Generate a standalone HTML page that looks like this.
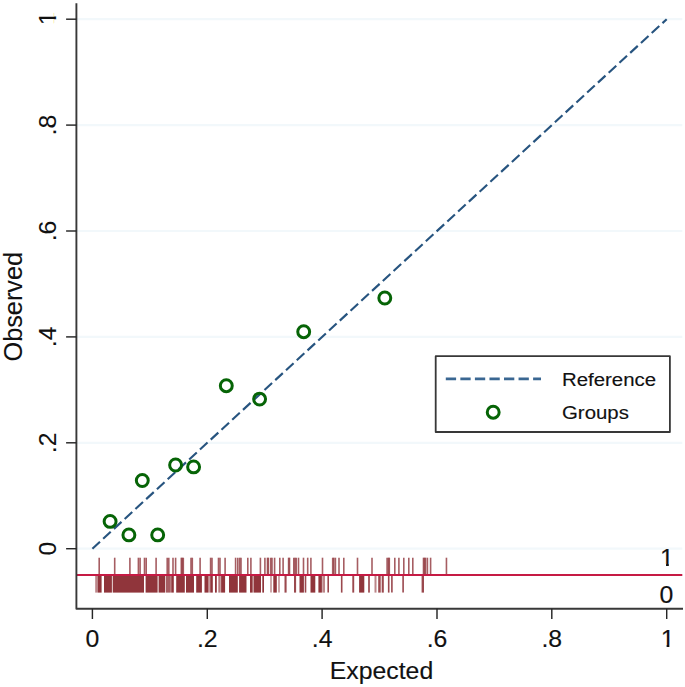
<!DOCTYPE html>
<html lang="en"><head><meta charset="utf-8"><title>Calibration plot</title>
<style>
html,body{margin:0;padding:0;background:#fff;}
body{width:685px;height:687px;overflow:hidden;}
svg{display:block;}
text{font-family:"Liberation Sans",Arial,Helvetica,sans-serif;fill:#111;stroke:#111;stroke-width:0.15px;}
.r{stroke-width:0.08px;}
.t{font-size:24.8px;}
.l{font-size:20.4px;}
</style></head><body>
<svg width="685" height="687" viewBox="0 0 685 687">
<rect width="685" height="687" fill="#fff"/>
<defs><clipPath id="c1"><path d="M-9,-26H9V-2.25H1.8V1H-0.95V-2.25H-9Z"/></clipPath></defs>
<g stroke="#f2f8fb" stroke-width="2.2">
<line x1="77" x2="682.3" y1="548.7" y2="548.7"/>
<line x1="77" x2="682.3" y1="442.8" y2="442.8"/>
<line x1="77" x2="682.3" y1="336.9" y2="336.9"/>
<line x1="77" x2="682.3" y1="231.0" y2="231.0"/>
<line x1="77" x2="682.3" y1="125.1" y2="125.1"/>
<line x1="77" x2="682.3" y1="19.2" y2="19.2"/>
</g>
<g fill="#90353b">
<rect x="95.2" y="575.1" width="2.8" height="17.5" opacity="0.6"/>
<rect x="98.0" y="575.1" width="3.6" height="17.5" opacity="1"/>
<rect x="104.0" y="575.1" width="7.9" height="17.5" opacity="1"/>
<rect x="112.7" y="575.1" width="31.3" height="17.5" opacity="1"/>
<rect x="145.6" y="575.1" width="12.0" height="17.5" opacity="1"/>
<rect x="158.6" y="575.1" width="6.6" height="17.5" opacity="1"/>
<rect x="165.9" y="575.1" width="4.9" height="17.5" opacity="0.8"/>
<rect x="171.2" y="575.1" width="2.6" height="17.5" opacity="1"/>
<rect x="176.2" y="575.1" width="8.6" height="17.5" opacity="1"/>
<rect x="186.0" y="575.1" width="8.0" height="17.5" opacity="1"/>
<rect x="196.2" y="575.1" width="5.7" height="17.5" opacity="1"/>
<rect x="204.5" y="575.1" width="3.5" height="17.5" opacity="1"/>
<rect x="208.0" y="575.1" width="1.8" height="17.5" opacity="0.6"/>
<rect x="210.2" y="575.1" width="2.6" height="17.5" opacity="1"/>
<rect x="215.0" y="575.1" width="1.8" height="17.5" opacity="1"/>
<rect x="218.3" y="575.1" width="2.4" height="17.5" opacity="0.65"/>
<rect x="221.1" y="575.1" width="4.0" height="17.5" opacity="1"/>
<rect x="229.0" y="575.1" width="8.8" height="17.5" opacity="1"/>
<rect x="239.1" y="575.1" width="7.4" height="17.5" opacity="1"/>
<rect x="250.0" y="575.1" width="2.7" height="17.5" opacity="1"/>
<rect x="253.5" y="575.1" width="7.5" height="17.5" opacity="1"/>
<rect x="262.3" y="575.1" width="1.7" height="17.5" opacity="1"/>
<rect x="273.3" y="575.1" width="3.5" height="17.5" opacity="1"/>
<rect x="284.5" y="575.1" width="2.1" height="17.5" opacity="0.9"/>
<rect x="294.0" y="575.1" width="2.1" height="17.5" opacity="0.9"/>
<rect x="299.5" y="575.1" width="4.4" height="17.5" opacity="1"/>
<rect x="310.5" y="575.1" width="4.8" height="17.5" opacity="1"/>
<rect x="318.4" y="575.1" width="3.5" height="17.5" opacity="1"/>
<rect x="322.3" y="575.1" width="2.7" height="17.5" opacity="0.6"/>
<rect x="352.3" y="575.1" width="1.9" height="17.5" opacity="0.9"/>
<rect x="359.1" y="575.1" width="5.2" height="17.5" opacity="1"/>
<rect x="368.1" y="575.1" width="1.8" height="17.5" opacity="0.85"/>
<rect x="374.5" y="575.1" width="2.0" height="17.5" opacity="0.6"/>
<rect x="378.2" y="575.1" width="2.5" height="17.5" opacity="0.9"/>
<rect x="381.7" y="575.1" width="2.1" height="17.5" opacity="0.9"/>
<rect x="421.6" y="575.1" width="2.4" height="17.5" opacity="0.9"/>
</g>
<g stroke="#90353b" stroke-width="1.6">
<line x1="271" x2="271" y1="575.1" y2="592.6" opacity="0.54"/>
<line x1="279" x2="279" y1="575.1" y2="592.6" opacity="0.54"/>
<line x1="305.5" x2="305.5" y1="575.1" y2="592.6" opacity="0.90"/>
<line x1="328.2" x2="328.2" y1="575.1" y2="592.6" opacity="0.90"/>
<line x1="341.7" x2="341.7" y1="575.1" y2="592.6" opacity="0.90"/>
<line x1="388.7" x2="388.7" y1="575.1" y2="592.6" opacity="0.90"/>
<line x1="391.9" x2="391.9" y1="575.1" y2="592.6" opacity="0.90"/>
<line x1="403.1" x2="403.1" y1="575.1" y2="592.6" opacity="0.90"/>
<line x1="99.2" x2="99.2" y1="557.7" y2="575.1" opacity="0.8"/>
<line x1="114.7" x2="114.7" y1="557.7" y2="575.1" opacity="0.8"/>
<line x1="129.9" x2="129.9" y1="557.7" y2="575.1" opacity="0.8"/>
<line x1="138.4" x2="138.4" y1="557.7" y2="575.1" opacity="0.8"/>
<line x1="140.1" x2="140.1" y1="557.7" y2="575.1" opacity="0.8"/>
<line x1="144.5" x2="144.5" y1="557.7" y2="575.1" opacity="0.8"/>
<line x1="146.2" x2="146.2" y1="557.7" y2="575.1" opacity="0.8"/>
<line x1="156.1" x2="156.1" y1="557.7" y2="575.1" opacity="0.8"/>
<line x1="167.2" x2="167.2" y1="557.7" y2="575.1" opacity="0.8"/>
<line x1="168.8" x2="168.8" y1="557.7" y2="575.1" opacity="0.8"/>
<line x1="173.0" x2="173.0" y1="557.7" y2="575.1" opacity="0.8"/>
<line x1="175.6" x2="175.6" y1="557.7" y2="575.1" opacity="0.8"/>
<line x1="181.3" x2="181.3" y1="557.7" y2="575.1" opacity="0.8"/>
<line x1="182.3" x2="182.3" y1="557.7" y2="575.1" opacity="0.8"/>
<line x1="183.3" x2="183.3" y1="557.7" y2="575.1" opacity="0.8"/>
<line x1="191" x2="191" y1="557.7" y2="575.1" opacity="0.8"/>
<line x1="192.3" x2="192.3" y1="557.7" y2="575.1" opacity="0.8"/>
<line x1="200.1" x2="200.1" y1="557.7" y2="575.1" opacity="0.8"/>
<line x1="210.6" x2="210.6" y1="557.7" y2="575.1" opacity="0.8"/>
<line x1="212" x2="212" y1="557.7" y2="575.1" opacity="0.8"/>
<line x1="218.5" x2="218.5" y1="557.7" y2="575.1" opacity="0.8"/>
<line x1="220" x2="220" y1="557.7" y2="575.1" opacity="0.8"/>
<line x1="225.1" x2="225.1" y1="557.7" y2="575.1" opacity="0.8"/>
<line x1="235.6" x2="235.6" y1="557.7" y2="575.1" opacity="0.8"/>
<line x1="237.8" x2="237.8" y1="557.7" y2="575.1" opacity="0.8"/>
<line x1="239.7" x2="239.7" y1="557.7" y2="575.1" opacity="0.8"/>
<line x1="241" x2="241" y1="557.7" y2="575.1" opacity="0.8"/>
<line x1="247.8" x2="247.8" y1="557.7" y2="575.1" opacity="0.8"/>
<line x1="250.9" x2="250.9" y1="557.7" y2="575.1" opacity="0.8"/>
<line x1="260.4" x2="260.4" y1="557.7" y2="575.1" opacity="0.8"/>
<line x1="264.9" x2="264.9" y1="557.7" y2="575.1" opacity="0.8"/>
<line x1="267.5" x2="267.5" y1="557.7" y2="575.1" opacity="0.8"/>
<line x1="268.4" x2="268.4" y1="557.7" y2="575.1" opacity="0.8"/>
<line x1="270.8" x2="270.8" y1="557.7" y2="575.1" opacity="0.8"/>
<line x1="272" x2="272" y1="557.7" y2="575.1" opacity="0.8"/>
<line x1="274.6" x2="274.6" y1="557.7" y2="575.1" opacity="0.8"/>
<line x1="279.8" x2="279.8" y1="557.7" y2="575.1" opacity="0.8"/>
<line x1="283.1" x2="283.1" y1="557.7" y2="575.1" opacity="0.8"/>
<line x1="288.6" x2="288.6" y1="557.7" y2="575.1" opacity="0.8"/>
<line x1="289.5" x2="289.5" y1="557.7" y2="575.1" opacity="0.8"/>
<line x1="293.8" x2="293.8" y1="557.7" y2="575.1" opacity="0.8"/>
<line x1="295" x2="295" y1="557.7" y2="575.1" opacity="0.8"/>
<line x1="296.2" x2="296.2" y1="557.7" y2="575.1" opacity="0.8"/>
<line x1="298.5" x2="298.5" y1="557.7" y2="575.1" opacity="0.8"/>
<line x1="303.5" x2="303.5" y1="557.7" y2="575.1" opacity="0.8"/>
<line x1="307.7" x2="307.7" y1="557.7" y2="575.1" opacity="0.8"/>
<line x1="310.9" x2="310.9" y1="557.7" y2="575.1" opacity="0.8"/>
<line x1="322.5" x2="322.5" y1="557.7" y2="575.1" opacity="0.8"/>
<line x1="332.7" x2="332.7" y1="557.7" y2="575.1" opacity="0.8"/>
<line x1="333.8" x2="333.8" y1="557.7" y2="575.1" opacity="0.8"/>
<line x1="335.4" x2="335.4" y1="557.7" y2="575.1" opacity="0.8"/>
<line x1="339" x2="339" y1="557.7" y2="575.1" opacity="0.8"/>
<line x1="343.8" x2="343.8" y1="557.7" y2="575.1" opacity="0.8"/>
<line x1="357.5" x2="357.5" y1="557.7" y2="575.1" opacity="0.8"/>
<line x1="372" x2="372" y1="557.7" y2="575.1" opacity="0.8"/>
<line x1="387.1" x2="387.1" y1="557.7" y2="575.1" opacity="0.8"/>
<line x1="388.5" x2="388.5" y1="557.7" y2="575.1" opacity="0.8"/>
<line x1="389.3" x2="389.3" y1="557.7" y2="575.1" opacity="0.8"/>
<line x1="394.8" x2="394.8" y1="557.7" y2="575.1" opacity="0.8"/>
<line x1="398.9" x2="398.9" y1="557.7" y2="575.1" opacity="0.8"/>
<line x1="403.8" x2="403.8" y1="557.7" y2="575.1" opacity="0.8"/>
<line x1="408.8" x2="408.8" y1="557.7" y2="575.1" opacity="0.8"/>
<line x1="412.8" x2="412.8" y1="557.7" y2="575.1" opacity="0.8"/>
<line x1="423.5" x2="423.5" y1="557.7" y2="575.1" opacity="0.8"/>
<line x1="424.5" x2="424.5" y1="557.7" y2="575.1" opacity="0.8"/>
<line x1="425.5" x2="425.5" y1="557.7" y2="575.1" opacity="0.8"/>
<line x1="427.4" x2="427.4" y1="557.7" y2="575.1" opacity="0.8"/>
<line x1="430.6" x2="430.6" y1="557.7" y2="575.1" opacity="0.8"/>
<line x1="446.45" x2="446.45" y1="557.7" y2="575.1" opacity="0.8"/>
</g>
<line x1="77" x2="682.3" y1="575.1" y2="575.1" stroke="#c61a44" stroke-width="2.0"/>
<line x1="92.4" y1="548.7" x2="666.7" y2="19.2" stroke="#27547f" stroke-width="2.15" stroke-dasharray="10.3 4.33"/>
<g fill="none" stroke="#066406" stroke-width="3.0">
<circle cx="110.1" cy="521.4" r="5.95"/>
<circle cx="128.9" cy="534.9" r="5.95"/>
<circle cx="157.7" cy="534.9" r="5.95"/>
<circle cx="142.3" cy="480.5" r="5.95"/>
<circle cx="175.6" cy="465.0" r="5.95"/>
<circle cx="193.6" cy="466.9" r="5.95"/>
<circle cx="226.3" cy="385.7" r="5.95"/>
<circle cx="259.6" cy="399.1" r="5.95"/>
<circle cx="303.7" cy="331.7" r="5.95"/>
<circle cx="384.8" cy="298.0" r="5.95"/>
</g>
<path d="M76.4,3.3V608.8H683" fill="none" stroke="#383838" stroke-width="1.9" stroke-linejoin="round"/>
<g stroke="#262626" stroke-width="1.45" fill="none">
<line x1="66.1" x2="76.4" y1="548.7" y2="548.7"/>
<line x1="92.4" x2="92.4" y1="608.8" y2="619"/>
<line x1="66.1" x2="76.4" y1="442.8" y2="442.8"/>
<line x1="207.3" x2="207.3" y1="608.8" y2="619"/>
<line x1="66.1" x2="76.4" y1="336.9" y2="336.9"/>
<line x1="322.1" x2="322.1" y1="608.8" y2="619"/>
<line x1="66.1" x2="76.4" y1="231.0" y2="231.0"/>
<line x1="437.0" x2="437.0" y1="608.8" y2="619"/>
<line x1="66.1" x2="76.4" y1="125.1" y2="125.1"/>
<line x1="551.8" x2="551.8" y1="608.8" y2="619"/>
<line x1="66.1" x2="76.4" y1="19.2" y2="19.2"/>
<line x1="666.7" x2="666.7" y1="608.8" y2="619"/>
</g>
<text class="t" x="92.4" y="647.3" text-anchor="middle">0</text>
<text class="t r" transform="translate(56.3,548.7) rotate(-90)" text-anchor="middle">0</text>
<text class="t" x="207.3" y="647.3" text-anchor="middle">.2</text>
<text class="t r" transform="translate(56.3,442.8) rotate(-90)" text-anchor="middle">.2</text>
<text class="t" x="322.1" y="647.3" text-anchor="middle">.4</text>
<text class="t r" transform="translate(56.3,336.9) rotate(-90)" text-anchor="middle">.4</text>
<text class="t" x="437.0" y="647.3" text-anchor="middle">.6</text>
<text class="t r" transform="translate(56.3,231.0) rotate(-90)" text-anchor="middle">.6</text>
<text class="t" x="551.8" y="647.3" text-anchor="middle">.8</text>
<text class="t r" transform="translate(56.3,125.1) rotate(-90)" text-anchor="middle">.8</text>
<g transform="translate(667.55,647.3)"><text class="t" text-anchor="middle" clip-path="url(#c1)">1</text></g>
<g transform="translate(56.3,18.35) rotate(-90)"><text class="t r" text-anchor="middle" clip-path="url(#c1)">1</text></g>
<text class="t" x="381.5" y="679.2" text-anchor="middle">Expected</text>
<text class="t r" style="font-size:25.3px" transform="translate(22.0,306.7) rotate(-90)" text-anchor="middle">Observed</text>
<g transform="translate(667.0,566.2)"><text class="t" text-anchor="middle" clip-path="url(#c1)">1</text></g>
<text class="t" x="666.3" y="603.4" text-anchor="middle">0</text>
<rect x="435.7" y="356.2" width="234.2" height="75.8" fill="#fff" stroke="#383838" stroke-width="1.8" stroke-linejoin="round"/>
<line x1="445.8" x2="541" y1="378.9" y2="378.9" stroke="#3a6792" stroke-width="2.8" stroke-dasharray="10.3 4.25"/>
<circle cx="493.2" cy="412.2" r="5.95" fill="none" stroke="#066406" stroke-width="3.0"/>
<text class="l" transform="translate(562,386.3) scale(1,0.92)">Reference</text>
<text class="l" transform="translate(562,419) scale(1,0.92)">Groups</text>
</svg></body></html>
